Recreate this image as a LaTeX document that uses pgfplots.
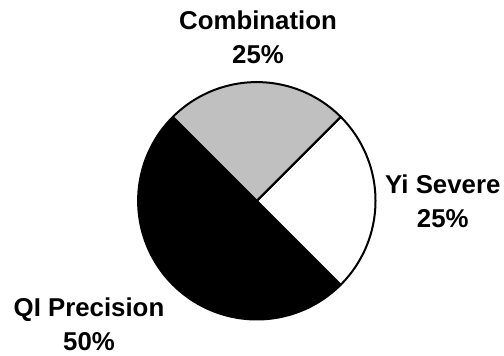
\documentclass[border=0pt]{standalone}
\usepackage{pgfplots}
\pgfplotsset{compat=1.18}
\usepackage{fontspec}
\setmainfont{Liberation Sans}

\definecolor{slicegray}{RGB}{192,192,192}
\tikzset{lbl/.style={font=\fontsize{25.8bp}{31bp}\selectfont\bfseries, inner sep=0pt, anchor=base}}

\begin{document}
\begin{tikzpicture}
\useasboundingbox (0,0) rectangle (504bp,356bp);
\begin{axis}[
  at={(0,0)}, anchor=south west,
  scale only axis, width=504bp, height=356bp,
  xmin=0, xmax=504, ymin=0, ymax=356,
  hide axis, clip=false,
]
% pie centre and radius (axis units = bp)
\def\cx{256.8}
\def\cy{155.2}
\def\rr{118.7}
% shares in percent
\def\shareYi{25}
\def\shareComb{25}
\def\shareQI{50}
\pgfmathsetmacro{\aA}{-45}
\pgfmathsetmacro{\aB}{\aA+3.6*\shareYi}
\pgfmathsetmacro{\aC}{\aB+3.6*\shareComb}
\pgfmathsetmacro{\aD}{\aC+3.6*\shareQI}

% QI Precision
\addplot[fill=black, draw=black, line width=2bp, line join=round,
  domain=\aC:\aD, samples=121, variable=\t]
  ({\cx+\rr*cos(\t)}, {\cy+\rr*sin(\t)}) -- (axis cs:\cx,\cy) -- cycle;
% Yi Severe
\addplot[fill=white, draw=black, line width=2bp, line join=round,
  domain=\aA:\aB, samples=61, variable=\t]
  ({\cx+\rr*cos(\t)}, {\cy+\rr*sin(\t)}) -- (axis cs:\cx,\cy) -- cycle;
% Combination
\addplot[fill=slicegray, draw=black, line width=2bp, line join=round,
  domain=\aB:\aC, samples=61, variable=\t]
  ({\cx+\rr*cos(\t)}, {\cy+\rr*sin(\t)}) -- (axis cs:\cx,\cy) -- cycle;

% labels
\node[lbl] at (axis cs:258,326.7) {Combination};
\node[lbl] at (axis cs:258,292) {\shareComb\%};
\node[lbl] at (axis cs:442.8,162.7) {Yi Severe};
\node[lbl] at (axis cs:442.8,128) {\shareYi\%};
\node[lbl] at (axis cs:89,39.3) {QI Precision};
\node[lbl] at (axis cs:89,6) {\shareQI\%};
\end{axis}
\end{tikzpicture}
\end{document}
